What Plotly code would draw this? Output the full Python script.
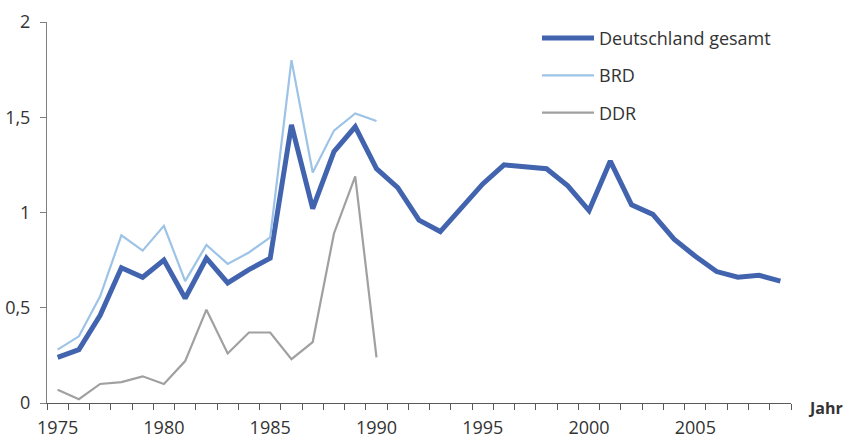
import plotly.graph_objects as go

years = list(range(1975, 2010))
gesamt = [0.24, 0.28, 0.46, 0.71, 0.66, 0.75, 0.55, 0.76, 0.63, 0.70, 0.76,
          1.46, 1.02, 1.32, 1.45, 1.23, 1.13, 0.96, 0.90, 1.025, 1.15, 1.25,
          1.24, 1.23, 1.14, 1.01, 1.27, 1.04, 0.99, 0.86, 0.77, 0.69, 0.66,
          0.67, 0.64]
brd_years = list(range(1975, 1991))
brd = [0.28, 0.35, 0.56, 0.88, 0.80, 0.93, 0.64, 0.83, 0.73, 0.79, 0.87,
       1.80, 1.21, 1.43, 1.52, 1.48]
ddr_years = list(range(1975, 1991))
ddr = [0.07, 0.02, 0.10, 0.11, 0.14, 0.10, 0.22, 0.49, 0.26, 0.37, 0.37,
       0.23, 0.32, 0.89, 1.19, 0.24]
x_ticks = [1975, 1980, 1985, 1990, 1995, 2000, 2005]
y_ticks = [0, 0.5, 1, 1.5, 2]
y_labels = ["0", "0,5", "1", "1,5", "2"]

fig = go.Figure()
fig.add_trace(go.Scatter(x=years, y=gesamt, mode="lines", name="Deutschland gesamt",
                         line=dict(color="#4264AF", width=5), legendgroup="a"))
fig.add_trace(go.Scatter(x=brd_years, y=brd, mode="lines", name="BRD",
                         line=dict(color="#9DC3E6", width=2.2), legendgroup="b"))
fig.add_trace(go.Scatter(x=ddr_years, y=ddr, mode="lines", name="DDR",
                         line=dict(color="#A0A0A0", width=2.2), legendgroup="c"))

fig.update_layout(
    width=844, height=439,
    margin=dict(l=47, r=53, t=22, b=36),
    paper_bgcolor="white", plot_bgcolor="white",
    font=dict(family="Open Sans", size=18, color="#333333"),
    showlegend=True,
    legend=dict(x=0.6586, y=1.006, xanchor="left", yanchor="top",
                font=dict(size=18, color="#333333"), tracegroupgap=11,
                itemwidth=52, bgcolor="rgba(0,0,0,0)"),
    xaxis=dict(range=[1974.5, 2009.5], tickmode="array", tickvals=x_ticks,
               ticktext=[str(v) for v in x_ticks], ticks="", showgrid=False,
               showline=True, linecolor="#595959", linewidth=1, zeroline=False,
               ticklabelstandoff=8, automargin=False,
               minor=dict(tick0=1974.5, dtick=1, ticks="outside", ticklen=6,
                          tickcolor="#595959", showgrid=False),
               tickfont=dict(size=18, color="#333333")),
    yaxis=dict(range=[0, 2], tickmode="array", tickvals=y_ticks, ticktext=y_labels,
               ticks="outside", ticklen=6, tickcolor="#7F7F7F", showgrid=False,
               showline=True, linecolor="#7F7F7F", linewidth=1, zeroline=False,
               ticklabelstandoff=6, automargin=False,
               tickfont=dict(size=18, color="#333333")),
    annotations=[dict(text="<b>Jahr</b>", xref="paper", yref="paper", x=1.047, y=-0.013,
                      xanchor="center", yanchor="middle", showarrow=False,
                      font=dict(size=16, color="#333333"))],
)

fig.write_html("out.html", config={"displayModeBar": False},
               post_script="document.body.style.margin='0';")
